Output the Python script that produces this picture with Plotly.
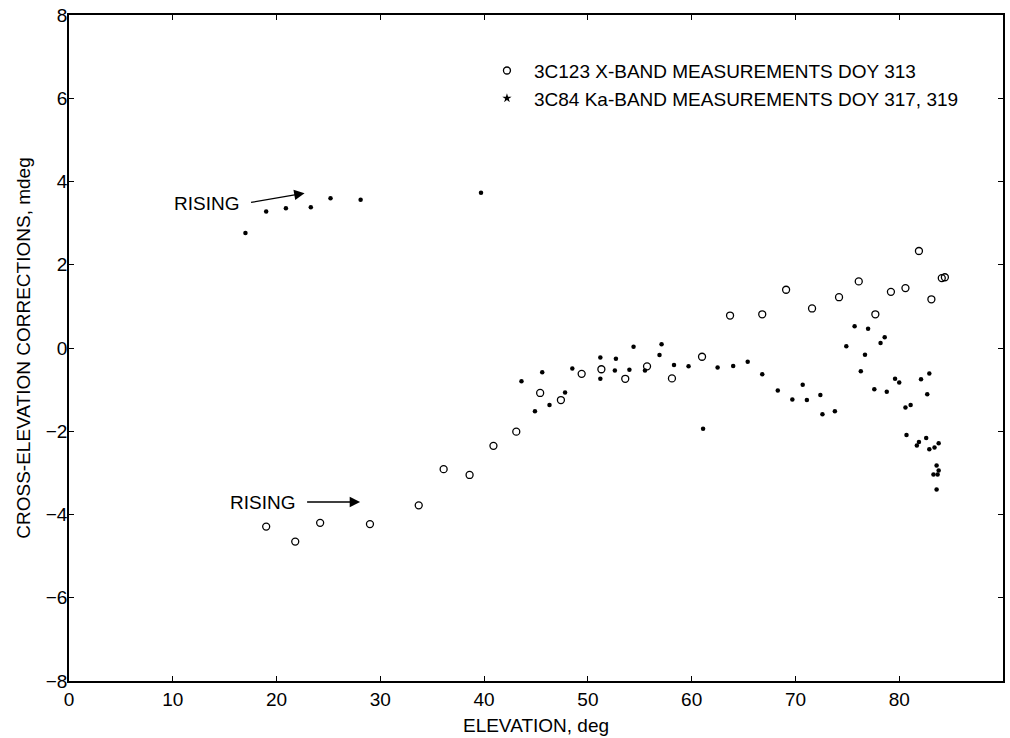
import plotly.graph_objects as go

# 3C123 X-band measurements, DOY 313
xband_elev = [19.0, 21.8, 24.2, 29.0, 33.7, 36.1, 38.6, 40.9, 43.1, 45.4,
              47.4, 49.4, 51.3, 53.6, 55.7, 58.1, 61.0, 63.7, 66.8, 69.1,
              71.6, 74.2, 76.1, 77.7, 79.2, 80.6, 81.9, 83.1, 84.1, 84.4]
xband_corr = [-4.29, -4.65, -4.20, -4.23, -3.78, -2.91, -3.05, -2.35, -2.01, -1.08,
              -1.25, -0.62, -0.51, -0.74, -0.44, -0.73, -0.21, 0.78, 0.81, 1.40,
              0.95, 1.22, 1.60, 0.81, 1.35, 1.44, 2.33, 1.17, 1.68, 1.70]

# 3C84 Ka-band measurements, DOY 317 and 319
ka_elev = [17.0, 19.0, 20.9, 23.3, 25.2, 28.1, 39.7, 43.6, 44.9, 45.6,
           46.3, 47.8, 48.5, 51.2, 51.2, 52.6, 52.7, 54.0, 54.4, 55.5,
           56.9, 57.1, 58.3, 59.7, 61.1, 62.5, 64.0, 65.4, 66.8, 68.3,
           69.7, 70.7, 71.1, 72.4, 72.6, 73.8, 74.9, 75.7, 76.3, 76.7,
           77.0, 77.6, 78.2, 78.6, 78.8, 79.6, 80.0, 80.6, 81.1, 82.1,
           82.7, 82.9, 80.7, 81.7, 81.9, 82.6, 82.9, 83.4, 83.8, 83.6,
           83.8, 83.3, 83.7, 83.6]
ka_corr = [2.76, 3.28, 3.36, 3.38, 3.60, 3.56, 3.73, -0.80, -1.52, -0.58,
           -1.37, -1.07, -0.49, -0.23, -0.74, -0.54, -0.26, -0.52, 0.03, -0.54,
           -0.17, 0.09, -0.41, -0.44, -1.94, -0.47, -0.43, -0.33, -0.63, -1.02,
           -1.24, -0.88, -1.25, -1.13, -1.59, -1.52, 0.04, 0.52, -0.56, -0.16,
           0.46, -0.99, 0.12, 0.26, -1.05, -0.74, -0.83, -1.43, -1.37, -0.75,
           -1.11, -0.61, -2.09, -2.34, -2.26, -2.16, -2.43, -2.39, -2.29, -2.82,
           -2.94, -3.04, -3.04, -3.40]

x_ticks = [0, 10, 20, 30, 40, 50, 60, 70, 80, 90]
y_ticks = [-8, -6, -4, -2, 0, 2, 4, 6, 8]

legend_xband = "3C123 X-BAND MEASUREMENTS DOY 313"
legend_ka = "3C84 Ka-BAND MEASUREMENTS DOY 317, 319"
x_title = "ELEVATION, deg"
y_title = "CROSS-ELEVATION CORRECTIONS, mdeg"

FONT = "Liberation Sans, Arial, Helvetica, sans-serif"
FS = 19

fig = go.Figure()

fig.add_trace(go.Scatter(
    x=xband_elev, y=xband_corr, mode="markers", name=legend_xband,
    marker=dict(symbol="circle-open", size=7, color="black", line=dict(width=1.3, color="black")),
))
fig.add_trace(go.Scatter(
    x=ka_elev, y=ka_corr, mode="markers", name=legend_ka, showlegend=False,
    marker=dict(symbol="circle", size=4.5, color="black"),
))
# legend entry for the Ka-band series uses a small star symbol
fig.add_trace(go.Scatter(
    x=[None], y=[None], mode="markers", name=legend_ka,
    marker=dict(symbol="star", size=7, color="black"),
))

axis_common = dict(
    showline=True, linecolor="black", linewidth=1.5, mirror="ticks",
    ticks="inside", ticklen=5, tickwidth=1, tickcolor="black",
    showgrid=False, zeroline=False,
    tickfont=dict(family=FONT, size=FS, color="black"),
    title_font=dict(family=FONT, size=FS, color="black"),
)

fig.update_xaxes(range=[0, 90], tickvals=x_ticks, title_text=x_title,
                 title_standoff=10, **axis_common)
fig.update_yaxes(range=[-8, 8], tickvals=y_ticks, title_text=y_title,
                 title_standoff=10, ticklabelstandoff=-4, **axis_common)

arrow_style = dict(showarrow=True, arrowhead=2, arrowsize=1.6, arrowwidth=1.3,
                   arrowcolor="black", axref="x", ayref="y", text="")

annotations = [
    # upper label: Ka-band rising pass
    dict(x=16.6, y=3.48, xref="x", yref="y", text="RISING", showarrow=False,
         xanchor="right", yanchor="middle", font=dict(family=FONT, size=FS, color="black")),
    dict(x=22.7, y=3.72, ax=17.4, ay=3.49, xref="x", yref="y", **arrow_style),
    # lower label: X-band rising pass
    dict(x=22.0, y=-3.70, xref="x", yref="y", text="RISING", showarrow=False,
         xanchor="right", yanchor="middle", font=dict(family=FONT, size=FS, color="black")),
    dict(x=28.05, y=-3.70, ax=22.8, ay=-3.70, xref="x", yref="y", **arrow_style),
]

fig.update_layout(
    width=1010, height=738,
    margin=dict(l=69, r=5, t=11, b=56),
    paper_bgcolor="white", plot_bgcolor="white",
    font=dict(family=FONT, size=FS, color="black"),
    showlegend=True,
    legend=dict(x=0.44, y=0.945, xanchor="left", yanchor="top",
                bgcolor="rgba(0,0,0,0)", borderwidth=0, itemwidth=44,
                tracegroupgap=0,
                font=dict(family=FONT, size=FS, color="black")),
    annotations=annotations,
)

fig.write_html("out.html")
